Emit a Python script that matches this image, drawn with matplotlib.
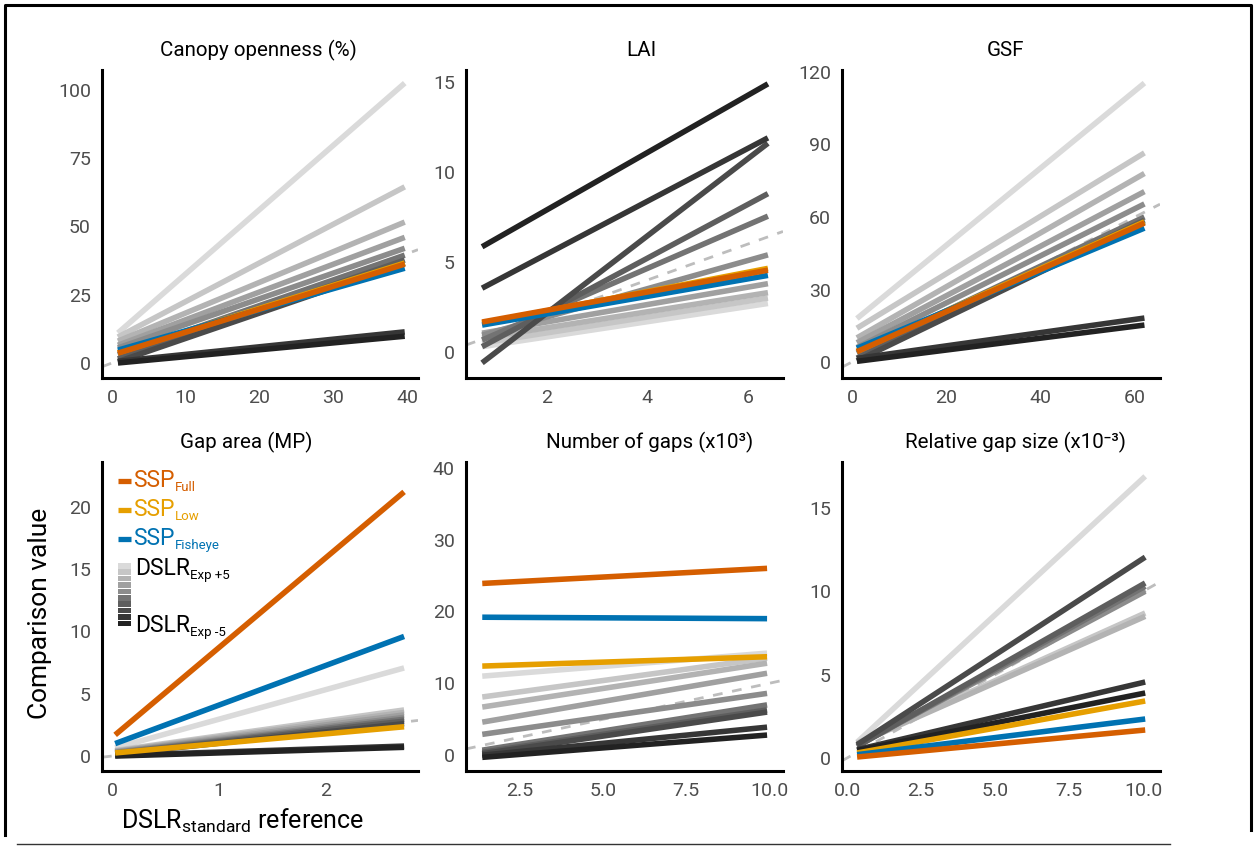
import numpy as np
import matplotlib
matplotlib.use("Agg")
import matplotlib.pyplot as plt
from matplotlib.lines import Line2D
from matplotlib.patches import Rectangle

plt.rcParams['font.family'] = ['Roboto', 'DejaVu Sans']
plt.rcParams['mathtext.fontset'] = 'custom'
plt.rcParams['mathtext.rm'] = 'Roboto'
plt.rcParams['mathtext.it'] = 'Roboto:italic'
plt.rcParams['mathtext.bf'] = 'Roboto:bold'

# DSLR exposure series, light (+5) to dark (-5)
exposures = ['+5', '+4', '+3', '+2', '+1', '-1', '-2', '-3', '-4', '-5']
gray_colors = ['#dadada', '#c6c6c6', '#b3b3b3', '#a0a0a0', '#8c8c8c',
               '#737373', '#5e5e5e', '#4a4a4a', '#363636', '#222222']

# SSP series (drawing order)
ssp_names = ['Low', 'Fisheye', 'Full']
ssp_colors = ['#E69F00', '#0072B2', '#D55E00']

# --- Canopy openness (%) ---
canopy_x = [0.8, 39.7]
canopy_dslr_start = [11.0, 9.5, 8.0, 6.5, 5.5, 3.0, 1.5, 0.5, 0.6, 0.0]
canopy_dslr_end = [102.5, 64.5, 51.6, 46.0, 42.0, 39.5, 37.7, 36.5, 11.4, 9.8]
canopy_ssp_start = [3.8, 4.7, 3.6]
canopy_ssp_end = [36.6, 34.7, 36.2]

# --- LAI ---
lai_x = [0.71, 6.4]
lai_dslr_start = [0.3, 0.5, 0.78, 1.05, 0.94, 0.67, 0.3, -0.6, 3.55, 5.85]
lai_dslr_end = [2.7, 3.0, 3.3, 3.8, 5.4, 7.55, 8.8, 11.6, 11.9, 14.9]
lai_ssp_start = [1.6, 1.5, 1.67]
lai_ssp_end = [4.65, 4.26, 4.55]

# --- GSF ---
gsf_x = [1.06, 62.0]
gsf_dslr_start = [18.0, 14.0, 10.0, 8.0, 6.0, 3.7, 1.6, 0.5, 1.5, 0.3]
gsf_dslr_end = [115.4, 86.5, 78.0, 70.5, 65.4, 60.0, 58.7, 58.0, 18.2, 15.3]
gsf_ssp_start = [4.5, 5.7, 4.3]
gsf_ssp_end = [58.0, 55.4, 57.5]

# --- Gap area (MP) ---
area_x = [0.03, 2.73]
area_dslr_start = [0.65, 0.45, 0.4, 0.35, 0.3, 0.25, 0.2, 0.15, 0.05, 0.0]
area_dslr_end = [7.07, 3.7, 3.5, 3.3, 3.1, 2.95, 2.8, 2.6, 0.8, 0.7]
area_ssp_start = [0.25, 1.0, 1.7]
area_ssp_end = [2.35, 9.6, 21.2]

# --- Number of gaps (x10^3) ---
ngaps_x = [1.36, 9.94]
ngaps_dslr_start = [11.0, 8.1, 6.7, 4.6, 2.9, 0.7, 0.4, 0.2, 0.0, -0.3]
ngaps_dslr_end = [14.2, 13.5, 12.8, 11.4, 8.6, 7.0, 6.3, 6.0, 3.9, 2.8]
ngaps_ssp_start = [12.4, 19.2, 23.9]
ngaps_ssp_end = [13.7, 19.0, 26.0]

# --- Relative gap size (x10^-3) ---
rel_x = [0.34, 10.07]
rel_dslr_start = [0.95, 0.9, 0.85, 0.8, 0.75, 0.7, 0.7, 0.8, 0.5, 0.45]
rel_dslr_end = [16.9, 8.7, 8.5, 10.1, 10.0, 10.3, 10.5, 12.05, 4.56, 3.9]
rel_ssp_start = [0.3, 0.2, 0.06]
rel_ssp_end = [3.42, 2.34, 1.68]

titles = ['Canopy openness (%)', 'LAI', 'GSF', 'Gap area (MP)',
          'Number of gaps (x10³)', 'Relative gap size (x10⁻³)']
# horizontal title centres as they sit in the picture (axes fraction)
title_x = [0.494, 0.552, 0.513, 0.456, 0.580, 0.547]

W, H = 1257, 857
fig = plt.figure(figsize=(W / 100, H / 100), dpi=100)


def rect(left, top, right, bottom):
    return [left / W, 1 - bottom / H, (right - left) / W, (bottom - top) / H]


def fpos(x, y):
    return x / W, 1 - y / H


cols = [(102, 418), (466, 783), (842, 1160)]
rows = [(70, 378), (462, 771)]

panels = [
    (canopy_x, canopy_dslr_start, canopy_dslr_end, canopy_ssp_start, canopy_ssp_end,
     (-1.36, 41.5), (-5.5, 107.3), [0, 10, 20, 30, 40], [0, 25, 50, 75, 100], '%g'),
    (lai_x, lai_dslr_start, lai_dslr_end, lai_ssp_start, lai_ssp_end,
     (0.39, 6.70), (-1.44, 15.67), [2, 4, 6], [0, 5, 10, 15], '%g'),
    (gsf_x, gsf_dslr_start, gsf_dslr_end, gsf_ssp_start, gsf_ssp_end,
     (-2.1, 65.3), (-6.6, 120.8), [0, 20, 40, 60], [0, 30, 60, 90, 120], '%g'),
    (area_x, area_dslr_start, area_dslr_end, area_ssp_start, area_ssp_end,
     (-0.093, 2.86), (-1.2, 23.6), [0, 1, 2], [0, 5, 10, 15, 20], '%g'),
    (ngaps_x, ngaps_dslr_start, ngaps_dslr_end, ngaps_ssp_start, ngaps_ssp_end,
     (0.87, 10.42), (-2.2, 40.8), [2.5, 5, 7.5, 10], [0, 10, 20, 30, 40], '%.1f'),
    (rel_x, rel_dslr_start, rel_dslr_end, rel_ssp_start, rel_ssp_end,
     (-0.17, 10.57), (-0.78, 17.76), [0, 2.5, 5, 7.5, 10], [0, 5, 10, 15], '%.1f'),
]

axes = []
for k, (xr, ds, de, ss, se, xlim, ylim, xt, yt, xfmt) in enumerate(panels):
    top, bottom = rows[k // 3]
    left, right = cols[k % 3]
    ax = fig.add_axes(rect(left, top, right, bottom))
    axes.append(ax)

    ax.axline((0, 0), slope=1, color='#bdbdbd', lw=2, ls=(0, (3.5, 3.5)), zorder=1)
    for i in range(len(exposures)):
        ax.plot(xr, [ds[i], de[i]], color=gray_colors[i], lw=4,
                solid_capstyle='butt', zorder=2)
    for j in range(len(ssp_names)):
        ax.plot(xr, [ss[j], se[j]], color=ssp_colors[j], lw=4,
                solid_capstyle='butt', zorder=3)

    ax.set_xlim(*xlim)
    ax.set_ylim(*ylim)
    ax.set_xticks(xt)
    ax.set_xticklabels([xfmt % v for v in xt])
    ax.set_yticks(yt)
    ax.set_yticklabels(['%g' % v for v in yt])
    for s in ['top', 'right']:
        ax.spines[s].set_visible(False)
    for s in ['left', 'bottom']:
        ax.spines[s].set_linewidth(2.2)
        ax.spines[s].set_color('black')
    ax.tick_params(length=0, labelsize=14, labelcolor='#4d4d4d', pad=8)
    ax.set_title(titles[k], fontsize=14.8, pad=10, x=title_x[k])
    ax.set_facecolor('none')

# axis labels for the whole figure
fig.text(*fpos(40, 613), 'Comparison value', rotation=90, fontsize=19,
         ha='center', va='center')
fig.text(*fpos(243, 829), r'DSLR$_{\mathrm{standard}}$ reference', fontsize=18,
         ha='center', va='baseline')

# custom legend in the gap area panel
legend_rows = [('SSP', 'Full', '#D55E00', 481, 487),
               ('SSP', 'Low', '#E69F00', 510, 516),
               ('SSP', 'Fisheye', '#0072B2', 539, 545)]
for main, sub, col, ymark, ybase in legend_rows:
    fig.add_artist(Line2D([118 / W, 131 / W], [1 - ymark / H] * 2, color=col,
                          lw=3.8, solid_capstyle='butt', transform=fig.transFigure))
    t = fig.text(*fpos(133, ybase), main, fontsize=16.5, color=col, va='baseline')
    fig.add_artist(plt.Annotation(sub, xy=(1, 0), xycoords=t, xytext=(0, 1),
                                  textcoords='offset points', fontsize=9.5,
                                  color=col, va='baseline'))

for i, gc in enumerate(gray_colors):
    y0 = 563 + i * 6.4
    fig.add_artist(Rectangle(fpos(118, y0 + 5.6), 13 / W, 5.6 / H, color=gc,
                             transform=fig.transFigure, lw=0))

for sub, ybase in [('Exp +5', 575), ('Exp -5', 632)]:
    t = fig.text(*fpos(135, ybase), 'DSLR', fontsize=16.5, color='black', va='baseline')
    fig.add_artist(plt.Annotation(sub, xy=(1, 0), xycoords=t, xytext=(0, 1),
                                  textcoords='offset points', fontsize=9.5,
                                  color='black', va='baseline'))

# frame around the figure and the rule at the bottom
fig.add_artist(Line2D([5 / W, 5 / W, 1251 / W, 1251 / W],
                      [1 - 835 / H, 1 - 5 / H, 1 - 5 / H, 1 - 830 / H],
                      color='black', lw=2.2, transform=fig.transFigure))
fig.add_artist(Line2D([17 / W, 1170 / W], [1 - 844 / H] * 2, color='#333333',
                      lw=1, transform=fig.transFigure))

fig.savefig('out.png', dpi=100)
